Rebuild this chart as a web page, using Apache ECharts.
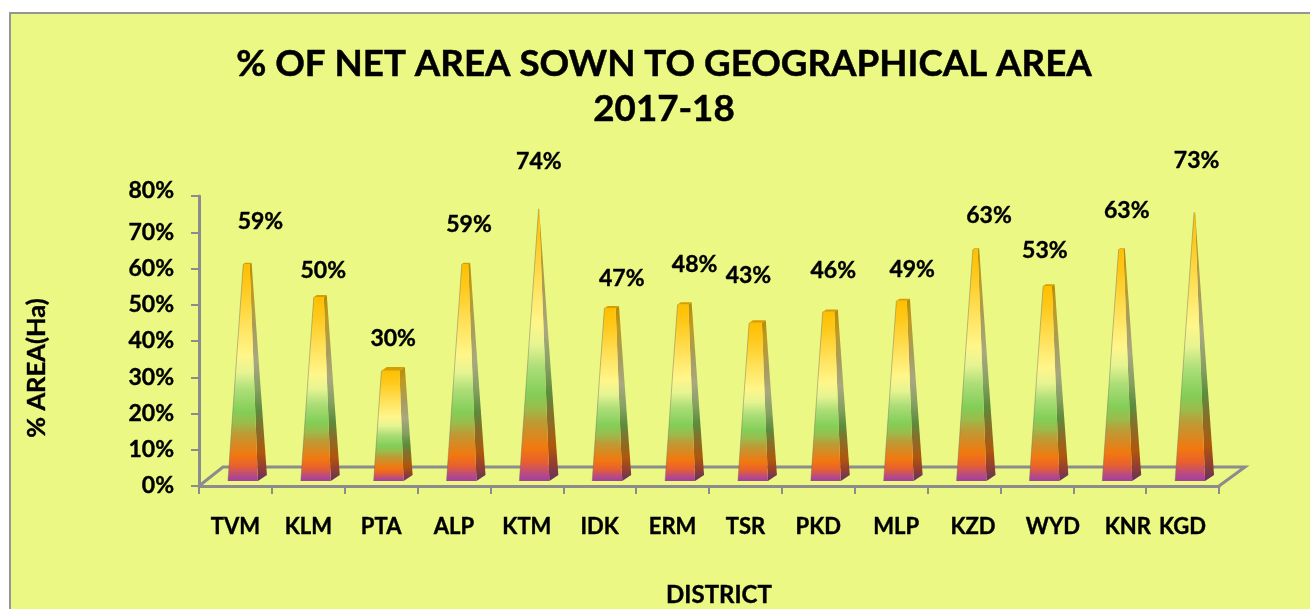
<!DOCTYPE html>
<html>
<head>
<meta charset="utf-8">
<style>html,body{margin:0;padding:0;background:#fff}#c{width:1310px;height:609px}</style>
<script src="https://cdn.jsdelivr.net/npm/echarts@6/dist/echarts.min.js"></script>
</head>
<body>
<div id="c"></div>
<script>
const titleText = "% OF NET AREA SOWN TO GEOGRAPHICAL AREA\n2017-18";
const xAxisName = "DISTRICT";
const yAxisName = "% AREA(Ha)";
const districts = ["TVM","KLM","PTA","ALP","KTM","IDK","ERM","TSR","PKD","MLP","KZD","WYD","KNR","KGD"];
const percentValues = [59,50,30,59,74,47,48,43,46,49,63,53,63,73];

// Layout only: hand-placed label offsets in px, as in the reference
const valueLabelDx = [25,15,12,15,12,22,22,3,15,21,25,8,17,14];
const valueLabelDy = [-41,-25,-28,-38,-47,-27,-38,-45,-39,-29,-33,-34,-38,-52];
const categoryLabelShift = [0,0,0,0,0,0,0,0,0,5,9,16,18,0];

const FONT = "Lato, Carlito, 'Open Sans', sans-serif";
const GREY = "#8c8c8c";
const APEX_VALUE = 75;
const FRONT_W = 30, DEPTH_X = 9, DEPTH_Y = 6;

const frontStops = [
  [0,"#FFBF00"],[.10,"#FFC819"],[.28,"#FFE25C"],[.42,"#FFF68A"],[.50,"#E6F492"],
  [.58,"#ADDE78"],[.68,"#83CE58"],[.735,"#9CBB4A"],[.78,"#BC9C36"],[.88,"#F2780F"],
  [.93,"#E8602E"],[.98,"#B2478E"],[1,"#A2409A"]
];
const sideStops = [
  [0,"#B58A08"],[.12,"#C09A20"],[.30,"#A89C5C"],[.45,"#A8A880"],[.58,"#84A060"],
  [.68,"#5C8C3C"],[.76,"#85702A"],[.87,"#B0560C"],[.93,"#97402C"],[1,"#643060"]
];
function grad(stops){
  return {type:"linear",x:0,y:0,x2:0,y2:1,colorStops:stops.map(s=>({offset:s[0],color:s[1]}))};
}
function lerp(a,b,t){return [a[0]+(b[0]-a[0])*t,a[1]+(b[1]-a[1])*t];}

function renderBar(params, api){
  const i = api.value(0), v = api.value(1);
  const c0 = api.coord([i,0]);
  const x0 = c0[0] - FRONT_W/2 + 7.5;
  const y0 = c0[1] - 5;                        // floor depth puts the base 5px above the axis
  const t = v/APEX_VALUE;
  // apex of the pyramid sits above the centre of the square base
  const apex = [x0 + (FRONT_W + DEPTH_X)/2, api.coord([i,APEX_VALUE])[1] - 9];
  const fl=[x0,y0], fr=[x0+FRONT_W,y0], br=[x0+FRONT_W+DEPTH_X,y0-DEPTH_Y], bl=[x0+DEPTH_X,y0-DEPTH_Y];
  const tfl=lerp(fl,apex,t), tfr=lerp(fr,apex,t), tbr=lerp(br,apex,t), tbl=lerp(bl,apex,t);
  return {type:"group",children:[
    {type:"polygon",shape:{points:[fr,br,tbr,tfr]},style:{fill:grad(sideStops)}},
    {type:"polygon",shape:{points:[fl,fr,tfr,tfl]},style:{fill:grad(frontStops)}},
    {type:"polygon",shape:{points:[tfl,tfr,tbr,tbl]},style:{fill:"#D89E00"}},
    {type:"polyline",shape:{points:[fl,tfl]},style:{fill:null,stroke:"rgba(110,110,100,.45)",lineWidth:1}},
    {type:"text",z2:10,style:{text:v+"%",x:c0[0]+valueLabelDx[i],y:tbl[1]+valueLabelDy[i],
      fill:"#000",font:"bold 23px "+FONT,align:"center",verticalAlign:"middle",stroke:"#000",lineWidth:.4}}
  ]};
}

function renderFloor(params, api){
  const a = api.coord([0,0]), b = api.coord([districts.length-1,0]);
  const half = (b[0]-a[0])/(districts.length-1)/2;
  const L = a[0]-half, R = b[0]+half, Y = a[1];
  return {type:"polyline",shape:{points:[[R,Y],[R+26,Y-19],[L+24,Y-19],[L,Y]]},
    style:{fill:null,stroke:GREY,lineWidth:3}};
}

const rich = {};
categoryLabelShift.forEach((s,i)=>{
  rich["s"+i]={fontFamily:FONT,fontWeight:"bold",fontSize:22,color:"#000",padding:[0,0,0,2*s],textBorderColor:"#000",textBorderWidth:.4};
});
const yRich = {
  n:{fontFamily:FONT,fontWeight:"bold",fontSize:23,color:"#000",textBorderColor:"#000",textBorderWidth:.4},
  t:{fontFamily:FONT,fontWeight:"bold",fontSize:23,color:"#000",padding:[0,0,10,0],textBorderColor:"#000",textBorderWidth:.4}
};

const chart = echarts.init(document.getElementById("c"),null,{renderer:"canvas"});
chart.setOption({
  animation:false,
  backgroundColor:"#fff",
  graphic:[{type:"rect",z:-10,shape:{x:10,y:13,width:1310,height:620},
    style:{fill:"#EBF984",stroke:"#969696",lineWidth:2}}],
  title:{text:titleText,left:659,top:37,textAlign:"center",
    textStyle:{fontFamily:FONT,fontWeight:"bold",fontSize:36.7,lineHeight:44.5,color:"#000",textBorderColor:"#000",textBorderWidth:.5}},
  grid:{left:199,top:196,width:1020,height:290,containLabel:false,outerBoundsMode:"none"},
  xAxis:{type:"category",data:districts,name:xAxisName,nameLocation:"middle",nameGap:97,
    nameTextStyle:{fontFamily:FONT,fontWeight:"bold",fontSize:24,color:"#000",textBorderColor:"#000",textBorderWidth:.4,padding:[0,0,0,20]},
    axisLine:{lineStyle:{color:GREY,width:3}},
    axisTick:{show:true,length:8,lineStyle:{color:GREY,width:2}},
    axisLabel:{interval:0,margin:30,hideOverlap:false,
      formatter:(v,i)=>"{s"+i+"|"+v+"}",rich}},
  yAxis:{type:"value",min:0,max:80,interval:10,name:yAxisName,nameLocation:"middle",nameGap:149,
    nameTextStyle:{fontFamily:FONT,fontWeight:"bold",fontSize:25.5,color:"#000",textBorderColor:"#000",textBorderWidth:.4,padding:[0,54,0,0]},
    splitLine:{show:false},
    axisLine:{show:true,lineStyle:{color:GREY,width:3}},
    axisTick:{show:true,length:8,lineStyle:{color:GREY,width:2}},
    axisLabel:{margin:25,formatter:v=>v===80?"{t|"+v+"%}":"{n|"+v+"%}",rich:yRich}},
  series:[
    {type:"custom",name:"floor",coordinateSystem:"cartesian2d",data:[[0,0]],renderItem:renderFloor,silent:true,z:1,clip:false},
    {type:"custom",name:"% of net area sown",coordinateSystem:"cartesian2d",clip:false,z:2,
      data:percentValues.map((v,i)=>[i,v]),encode:{x:0,y:1},renderItem:renderBar}
  ]
});
</script>
</body>
</html>
